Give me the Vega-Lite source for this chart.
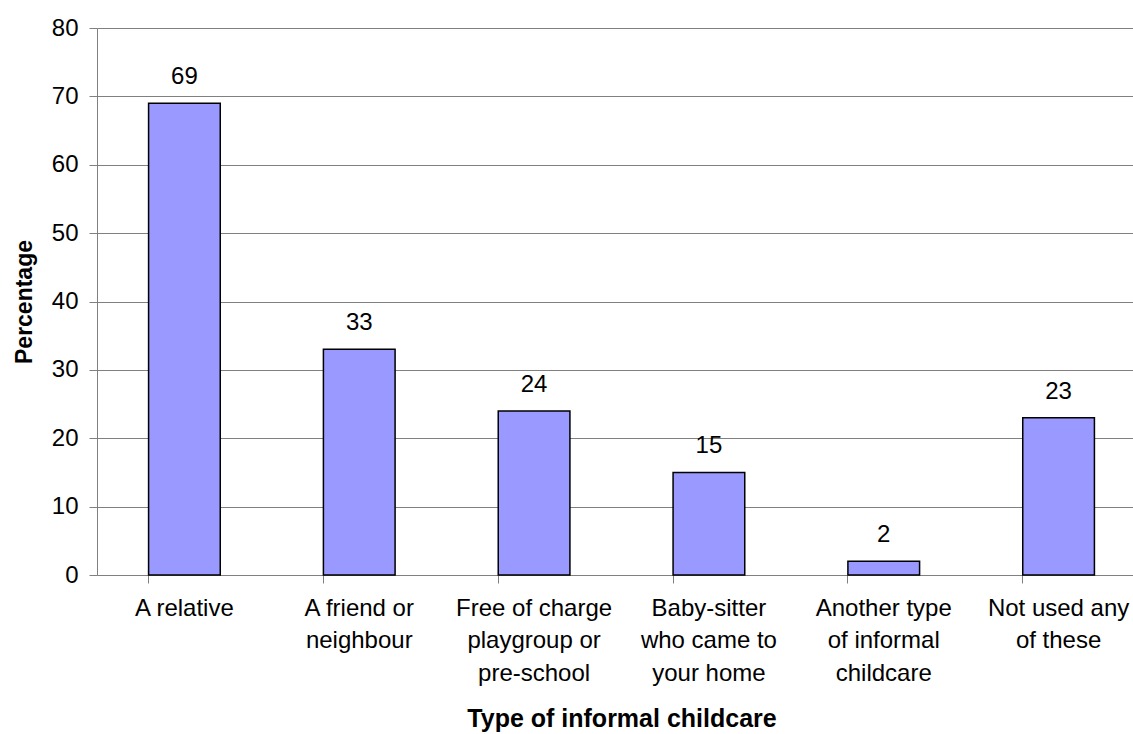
{
  "$schema": "https://vega.github.io/schema/vega-lite/v6.json",
  "autosize": "none",
  "padding": {"left": 97, "top": 28, "right": 0, "bottom": 159},
  "width": 1049,
  "height": 547,
  "background": "white",
  "config": {
    "view": {"stroke": null},
    "font": "Liberation Sans",
    "axis": {
      "labelFont": "Liberation Sans",
      "titleFont": "Liberation Sans",
      "labelColor": "black",
      "titleColor": "black",
      "domainColor": "#808080",
      "tickColor": "#808080",
      "gridColor": "#808080",
      "domainWidth": 1,
      "tickWidth": 1,
      "gridWidth": 1,
      "tickSize": 8
    }
  },
  "data": {
    "values": [
      {"type": "A relative", "pct": 69},
      {"type": "A friend or neighbour", "pct": 33},
      {"type": "Free of charge playgroup or pre-school", "pct": 24},
      {"type": "Baby-sitter who came to your home", "pct": 15},
      {"type": "Another type of informal childcare", "pct": 2},
      {"type": "Not used any of these", "pct": 23}
    ]
  },
  "encoding": {
    "x": {
      "field": "type",
      "type": "nominal",
      "sort": null,
      "scale": {"paddingInner": 0.59, "paddingOuter": 0.295},
      "axis": {
        "title": "Type of informal childcare",
        "titleFontSize": 25,
        "titleFontWeight": "bold",
        "titlePadding": 21,
        "labelAngle": 0,
        "labelFontSize": 24,
        "labelPadding": 13,
        "labelLineHeight": 32.5,
        "labelLimit": 300,
        "bandPosition": 0,
        "grid": false,
        "labelExpr": "datum.value == 'A friend or neighbour' ? ['A friend or', 'neighbour'] : datum.value == 'Free of charge playgroup or pre-school' ? ['Free of charge', 'playgroup or', 'pre-school'] : datum.value == 'Baby-sitter who came to your home' ? ['Baby-sitter', 'who came to', 'your home'] : datum.value == 'Another type of informal childcare' ? ['Another type', 'of informal', 'childcare'] : datum.value == 'Not used any of these' ? ['Not used any', 'of these'] : datum.value"
      }
    }
  },
  "layer": [
    {
      "mark": {"type": "bar", "color": "#9999FF", "stroke": "black", "strokeWidth": 1.5},
      "encoding": {
        "y": {
          "field": "pct",
          "type": "quantitative",
          "scale": {"domain": [0, 80], "nice": false},
          "axis": {
            "title": "Percentage",
            "titleFontSize": 23,
            "titleFontWeight": "bold",
            "titlePadding": 15,
            "labelFontSize": 24,
            "labelPadding": 11,
            "values": [0, 10, 20, 30, 40, 50, 60, 70, 80],
            "grid": true
          }
        }
      }
    },
    {
      "mark": {"type": "text", "fontSize": 24, "baseline": "alphabetic", "dy": -19, "color": "black"},
      "encoding": {
        "y": {"field": "pct", "type": "quantitative"},
        "text": {"field": "pct", "type": "quantitative"}
      }
    }
  ]
}
